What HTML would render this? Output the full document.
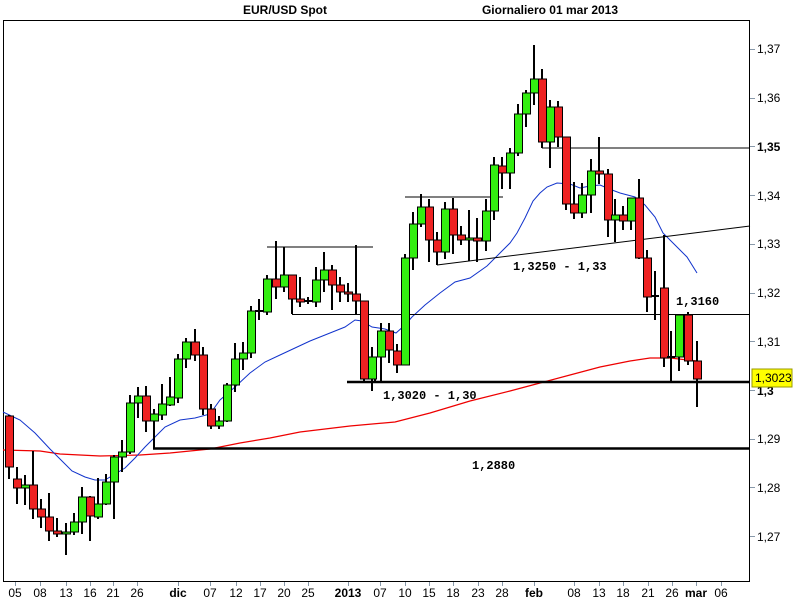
<!DOCTYPE html>
<html><head><meta charset="utf-8"><style>
html,body{margin:0;padding:0;background:#fff;}
svg{display:block;}
text{font-family:"Liberation Sans",Arial,sans-serif;}
.lb{font-family:"Liberation Mono",monospace;font-weight:bold;font-size:12px;fill:#000;}
</style></head><body>
<svg id="s" width="793" height="600" viewBox="0 0 793 600" xmlns="http://www.w3.org/2000/svg">
<rect x="0" y="0" width="793" height="600" fill="#fff"/>
<!-- frame -->
<line x1="3.5" y1="20" x2="3.5" y2="581" stroke="#000" stroke-width="1"/>
<line x1="3" y1="20.5" x2="750" y2="20.5" stroke="#000" stroke-width="1"/>
<line x1="749.5" y1="20" x2="749.5" y2="581" stroke="#000" stroke-width="1"/>
<line x1="3" y1="581.5" x2="750" y2="581.5" stroke="#000" stroke-width="1"/>
<text x="285" y="14" font-size="12" font-weight="bold" text-anchor="middle">EUR/USD Spot</text>
<text x="550" y="14" font-size="12" font-weight="bold" text-anchor="middle">Giornaliero  01 mar 2013</text>
<!-- y axis -->
<g font-size="12" fill="#000" stroke="none">
<text x="757" y="53">1,37</text>
<text x="757" y="102">1,36</text>
<text x="757" y="151" font-weight="bold">1,35</text>
<text x="757" y="200">1,34</text>
<text x="757" y="248">1,33</text>
<text x="757" y="297">1,32</text>
<text x="757" y="346">1,31</text>
<text x="757" y="395" font-weight="bold">1,3</text>
<text x="757" y="443">1,29</text>
<text x="757" y="492">1,28</text>
<text x="757" y="541">1,27</text>
</g>
<g stroke="#8899aa" stroke-width="1">
<line x1="750" y1="49.5" x2="755" y2="49.5"/><line x1="750" y1="98.5" x2="755" y2="98.5"/>
<line x1="750" y1="146.5" x2="755" y2="146.5"/><line x1="750" y1="195.5" x2="755" y2="195.5"/>
<line x1="750" y1="244.5" x2="755" y2="244.5"/><line x1="750" y1="293.5" x2="755" y2="293.5"/>
<line x1="750" y1="341.5" x2="755" y2="341.5"/><line x1="750" y1="390.5" x2="755" y2="390.5"/>
<line x1="750" y1="439.5" x2="755" y2="439.5"/><line x1="750" y1="487.5" x2="755" y2="487.5"/>
<line x1="750" y1="536.5" x2="755" y2="536.5"/>
</g>
<rect x="752" y="369" width="40" height="18" fill="#ffff00" stroke="#999900" stroke-width="1"/>
<text x="755" y="382" font-size="12">1,3023</text>
<!-- x axis -->
<g id="xt" font-size="12" text-anchor="middle"></g>
<!-- MAs -->
<polyline fill="none" stroke="#ee0000" stroke-width="1.2" points="3,450 40,451 60,454 100,456 140,455 170,453 210,449 240,443 270,438 300,432 350,426 395,422 430,413 470,401 510,391 540,383 570,375 600,367 630,361 650,358 670,358 697,361"/>
<polyline fill="none" stroke="#1133cc" stroke-width="1" points="3,412 20,420 35,433 50,449 60,459 72,471 85,477 95,480 105,480 115,474 125,468 135,458 145,447 155,437 165,427 180,420 195,418 210,414 220,400 235,387 250,373 265,362 280,355 295,348 310,341 330,333 345,327 355,320 362,321 372,327 385,329 396,333 405,325 412,317 425,305 440,293 455,282 470,278 487,266 500,253 510,243 517,233 525,218 533,201 540,193 547,187 557,183 570,184 580,188 590,186 600,185 612,190 620,193 635,197 645,205 655,217 663,233 672,242 677,247 687,257 697,273"/>
<!-- drawn lines -->
<g stroke="#000" fill="none">
<line x1="542" y1="148" x2="750" y2="148" stroke-width="1"/>
<line x1="153" y1="448.5" x2="750" y2="448.5" stroke-width="2.5"/>
<line x1="347" y1="382" x2="750" y2="382" stroke-width="2.5"/>
<line x1="292" y1="314.5" x2="750" y2="314.5" stroke-width="1"/>
<line x1="267" y1="247" x2="373" y2="247" stroke-width="1"/>
<line x1="405" y1="197" x2="503" y2="197" stroke-width="1"/>
<line x1="437" y1="265" x2="750" y2="226" stroke-width="1"/>
<line x1="154" y1="415" x2="154" y2="448" stroke-width="2"/>
<line x1="292" y1="299" x2="292" y2="314" stroke-width="2"/>
<line x1="356" y1="245" x2="356" y2="314" stroke-width="2"/>
<line x1="375" y1="357" x2="375" y2="382" stroke-width="2"/>
<line x1="437" y1="252" x2="437" y2="265" stroke-width="2"/>
</g>
<g id="cd"></g>
<text class="lb" x="513" y="270">1,3250 - 1,33</text>
<text class="lb" x="676" y="305">1,3160</text>
<text class="lb" x="383" y="399">1,3020 - 1,30</text>
<text class="lb" x="472" y="469">1,2880</text>
</svg>
<script>
var ticks=[[15,"05"],[40,"08"],[66,"13"],[90,"16"],[113,"21"],[137,"26"],[178,"dic",1],[210,"07"],[236,"12"],[260,"17"],[284,"20"],[308,"25"],[348,"2013",1],[380,"07"],[405,"10"],[429,"15"],[453,"18"],[478,"23"],[502,"28"],[534,"feb",1],[574,"08"],[599,"13"],[623,"18"],[648,"21"],[672,"26"],[696,"mar",1],[721,"06"]];
var ns="http://www.w3.org/2000/svg",xt=document.getElementById("xt");
ticks.forEach(function(t){var l=document.createElementNS(ns,"line");l.setAttribute("x1",t[0]+.5);l.setAttribute("x2",t[0]+.5);l.setAttribute("y1",582);l.setAttribute("y2",586);l.setAttribute("stroke","#8899aa");xt.appendChild(l);
var tx=document.createElementNS(ns,"text");tx.setAttribute("x",t[0]);tx.setAttribute("y",597);if(t[2])tx.setAttribute("font-weight","bold");tx.textContent=t[1];xt.appendChild(tx);});
// x, top, bottom, high, low, green?
var C=[[9,416,467,415,479,0],[17,479,488,467,504,0],[25,485,488,475,505,1],[33,485,509,451,519,0],[41,509,517,499,528,0],[49,517,531,493,541,0],[57,531,534,518,537,0],[66,532,534,523,555,1],[74,522,532,513,535,1],[82,497,522,487,534,1],[90,497,516,496,541,0],[98,504,517,478,519,1],[106,482,504,474,505,1],[114,457,482,455,519,1],[122,452,457,440,472,1],[130,403,452,395,454,1],[138,396,403,387,418,1],[146,396,421,386,432,0],[154,414,421,409,424,1],[162,404,415,384,420,1],[170,397,405,377,406,1],[178,359,398,354,403,1],[186,342,359,338,368,1],[195,342,355,329,361,0],[203,355,409,347,415,0],[211,409,426,404,429,0],[219,421,426,416,429,1],[227,385,421,383,422,1],[235,359,385,343,392,1],[243,353,359,342,370,1],[251,311,353,306,358,1],[259,311,312,299,320,1],[267,279,312,275,315,1],[276,279,287,241,299,0],[284,275,287,247,292,1],[292,275,299,275,299,0],[300,299,302,277,307,0],[308,301,302,297,304,1],[316,280,302,267,307,1],[324,270,280,252,292,1],[332,270,285,265,310,0],[340,285,292,277,302,0],[348,292,294,283,302,0],[356,294,301,245,301,0],[364,301,379,301,381,0],[372,357,379,347,391,1],[381,331,357,323,382,1],[389,331,350,323,363,0],[397,351,365,344,373,0],[405,258,365,254,365,1],[413,224,258,212,270,1],[421,207,224,194,227,1],[429,207,240,199,262,0],[437,240,252,232,258,0],[445,209,252,202,259,1],[453,209,235,198,254,0],[461,235,240,226,245,0],[469,238,240,210,261,1],[477,238,241,218,262,0],[486,211,241,199,251,1],[494,165,211,157,220,1],[502,166,173,157,189,0],[510,153,173,148,189,1],[518,114,153,104,156,1],[526,93,114,90,127,1],[534,79,93,45,105,1],[542,79,142,69,148,0],[550,107,142,100,168,1],[558,107,137,101,147,0],[566,137,204,137,210,0],[574,204,213,182,219,0],[582,195,213,183,218,1],[591,171,195,159,213,1],[599,171,174,137,184,0],[608,174,220,169,237,0],[615,215,220,199,242,1],[623,215,221,206,230,0],[631,198,221,198,230,1],[639,198,258,179,259,0],[647,258,297,250,312,0],[655,296,297,271,320,1],[664,288,358,235,367,0],[671,357,358,331,382,1],[679,315,357,315,371,1],[688,315,361,312,365,0],[697,361,379,341,407,0]];
var g=document.getElementById("cd"),h="";
C.forEach(function(c){var x=c[0];h+='<line x1="'+x+'" x2="'+x+'" y1="'+c[3]+'" y2="'+c[4]+'" stroke="#000" stroke-width="2"/>';
var bh=c[2]-c[1];if(bh<2){h+='<line x1="'+(x-4)+'" x2="'+(x+4)+'" y1="'+c[1]+'" y2="'+c[1]+'" stroke="#000" stroke-width="2"/>';}
else h+='<rect x="'+(x-3.5)+'" y="'+c[1]+'" width="8" height="'+bh+'" fill="'+(c[5]?"#33ee11":"#ee2222")+'" stroke="#000" stroke-width="1"/>';});
g.innerHTML=h;
</script>
</body></html>
